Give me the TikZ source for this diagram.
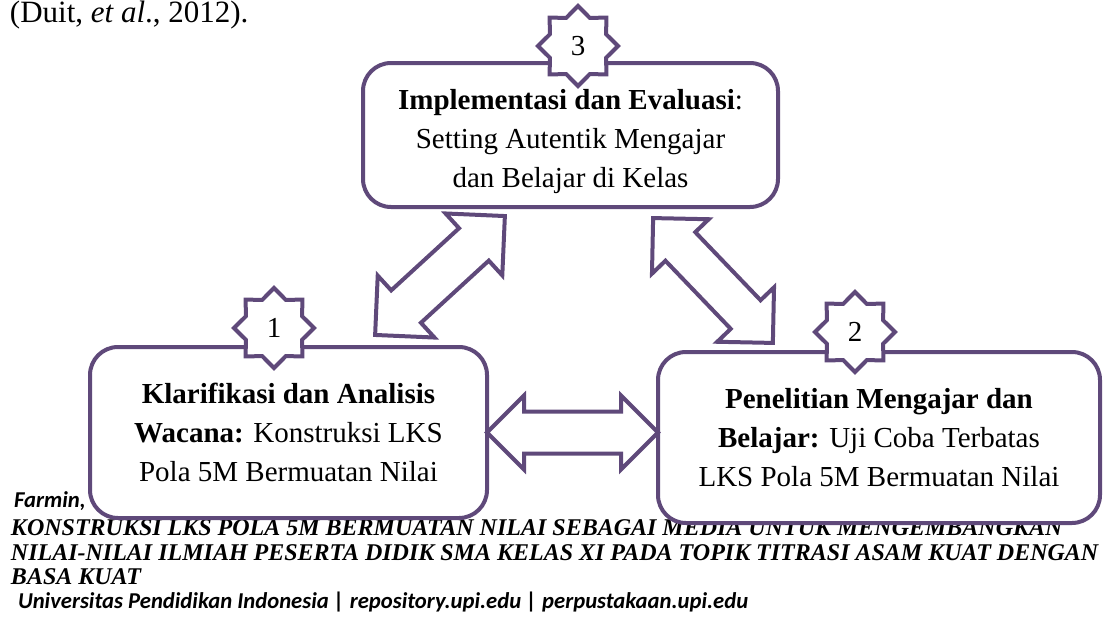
\documentclass[tikz,border=0pt]{standalone}
\usepackage{fontspec}
\setmainfont{Liberation Serif}
\newfontfamily\calibri{Carlito}
\usetikzlibrary{shapes.geometric,shapes.arrows,calc}
\definecolor{ungu}{HTML}{5F497A}

\tikzset{every picture/.style={line width=3pt}}
\tikzset{
	kotak/.style={draw=ungu, fill=white, rounded corners=21pt, align=center, inner sep=0pt, font=\fontsize{21.75}{29.25}\selectfont},
	teks/.style={align=center, inner sep=0pt, font=\fontsize{21.75}{29.25}\selectfont},
	bintang/.style={draw=ungu, fill=white, star, star points=8, star point ratio=1.31, minimum size=60pt, inner sep=0pt, font=\fontsize{21.75}{26}\selectfont},
	panah/.style={draw=ungu, fill=white, double arrow, inner xsep=0pt},
	kaki/.style={anchor=base west, inner sep=0pt},
}

\begin{document}
\begin{tikzpicture}[x=0.75pt,y=0.75pt,yscale=-1,xscale=1]
	\useasboundingbox (0,0) rectangle (1108,621);
	
	% Text Node
	\node [kaki, font=\fontsize{23.25}{28}\selectfont] (kutipan) at (8,22) {(Duit, \textit{et al}., 2012).};
	% Text Node
	\node [kaki, font=\calibri\bfseries\itshape\fontsize{17}{20}\selectfont] (penulis) at (12,507) {Farmin,};
	% Text Node
	\node [kaki, font=\bfseries\itshape\fontsize{18}{18.75}\selectfont] (judul1) at (9,535) {KONSTRUKSI LKS POLA 5M BERMUATAN NILAI SEBAGAI MEDIA UNTUK MENGEMBANGKAN};
	% Text Node
	\node [kaki, font=\bfseries\itshape\fontsize{18}{18.75}\selectfont] (judul2) at (9,560) {NILAI-NILAI ILMIAH PESERTA DIDIK SMA KELAS XI PADA TOPIK TITRASI ASAM KUAT DENGAN};
	% Text Node
	\node [kaki, font=\bfseries\itshape\fontsize{18}{18.75}\selectfont] (judul3) at (9,584) {BASA KUAT};
	% Text Node
	\node [kaki, font=\calibri\bfseries\itshape\fontsize{17}{20}\selectfont] (kampus) at (16,608) {Universitas Pendidikan Indonesia | repository.upi.edu | perpustakaan.upi.edu};
	
	%Shape: Rounded Rect [id:tahap1] 
	\node [kotak, minimum width=297.75pt, minimum height=128.25pt] (box1) at (288.5,432.5) {\textbf{Klarifikasi dan Analisis}\\ \textbf{Wacana:} Konstruksi LKS\\ Pola 5M Bermuatan Nilai};
	%Shape: Rounded Rect [id:tahap2] 
	\node [kotak, minimum width=331.5pt, minimum height=128.25pt] (box2) at (879,437.5) {\textbf{Penelitian Mengajar dan}\\ \textbf{Belajar:} Uji Coba Terbatas\\ LKS Pola 5M Bermuatan Nilai};
	%Shape: Rounded Rect [id:tahap3] 
	\node [kotak, minimum width=311.25pt, minimum height=108pt] (box3) at (570.5,135) {};
	\node [teks] (isi3) at ($(box3.center)+(0,7)$) {\textbf{Implementasi dan Evaluasi}:\\ Setting Autentik Mengajar\\ dan Belajar di Kelas};
	
	%Shape: Star [id:nomor]
	\node [bintang] (star1) at ($(box1.north)+(-14.5,-17)$) {1};
	\node [bintang] (star2) at ($(box2.north)+(-24,-18)$) {2};
	\node [bintang] (star3) at ($(box3.north)+(7.5,-15)$) {3};
	
	%Shape: Double Arrow [id:panah]
	\coordinate (u1) at ($(box1.north)+(86.5,-12)$);
	\coordinate (u3) at ($(box3.south)+(-65.5,9)$);
	\coordinate (v3) at ($(box3.south)+(82.5,11)$);
	\coordinate (v2) at ($(box2.north)+(-106,-9)$);
	\node [panah, rotate=42.5, minimum height=132pt, inner ysep=15pt, double arrow head extend=15pt] (p13) at ($(u1)!0.5!(u3)$) {};
	\node [panah, rotate=-46.2, minimum height=129.75pt, inner ysep=14pt, double arrow head extend=14pt] (p32) at ($(v3)!0.5!(v2)$) {};
	\path (box1.east) -- (box1.east -| box2.west) node [panah, midway, minimum height=128.25pt, inner ysep=14.25pt, double arrow head extend=12pt] (p12) {};
	
\end{tikzpicture}
\end{document}
